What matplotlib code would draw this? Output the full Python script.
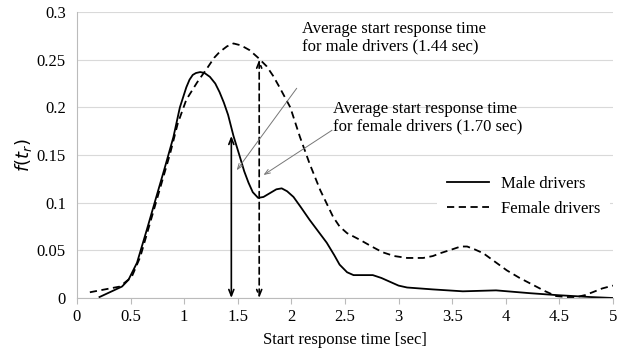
import matplotlib.pyplot as plt
from matplotlib.ticker import FormatStrFormatter

# Data
male_t = [0.21, 0.42, 0.48, 0.56, 0.65, 0.74, 0.82, 0.90, 0.96, 1.02, 1.05, 1.08, 1.11,
          1.15, 1.19, 1.24, 1.29, 1.33, 1.37, 1.41, 1.46, 1.52, 1.56, 1.60, 1.64, 1.69,
          1.74, 1.80, 1.86, 1.91, 1.96, 2.02, 2.09, 2.17, 2.25, 2.33, 2.40, 2.45, 2.52,
          2.58, 2.67, 2.76, 2.84, 2.92, 3.00, 3.08, 3.32, 3.60, 3.91, 4.23, 4.48, 4.79, 5.00]
male_f = [0.001, 0.012, 0.019, 0.037, 0.071, 0.106, 0.137, 0.169, 0.200, 0.221, 0.229, 0.234, 0.236,
          0.237, 0.236, 0.232, 0.225, 0.216, 0.205, 0.192, 0.170, 0.148, 0.133, 0.121, 0.111, 0.105,
          0.106, 0.110, 0.114, 0.115, 0.112, 0.106, 0.095, 0.082, 0.070, 0.058, 0.045, 0.035, 0.027,
          0.024, 0.024, 0.024, 0.021, 0.017, 0.013, 0.011, 0.009, 0.007, 0.008, 0.005, 0.003, 0.001, 0.000]

female_t = [0.12, 0.40, 0.51, 0.59, 0.68, 0.77, 0.87, 0.94, 1.02, 1.12, 1.22, 1.28, 1.33,
            1.40, 1.46, 1.53, 1.61, 1.69, 1.77, 1.83, 1.89, 1.99, 2.08, 2.17, 2.27, 2.39,
            2.45, 2.52, 2.64, 2.75, 2.85, 2.96, 3.08, 3.23, 3.32, 3.39, 3.50, 3.58, 3.64,
            3.71, 3.79, 3.90, 4.01, 4.13, 4.25, 4.37, 4.47, 4.57, 4.66, 4.74, 4.81, 4.90, 5.00]
female_f = [0.006, 0.012, 0.022, 0.043, 0.078, 0.113, 0.152, 0.183, 0.208, 0.226, 0.242, 0.252, 0.258,
            0.264, 0.267, 0.265, 0.260, 0.252, 0.243, 0.233, 0.221, 0.200, 0.169, 0.141, 0.113, 0.085,
            0.075, 0.068, 0.061, 0.054, 0.048, 0.044, 0.042, 0.042, 0.044, 0.047, 0.051, 0.054, 0.054,
            0.051, 0.047, 0.038, 0.029, 0.021, 0.014, 0.007, 0.002, 0.001, 0.001, 0.003, 0.006, 0.010, 0.013]

male_mean, male_mean_f = 1.44, 0.17
female_mean, female_mean_f = 1.70, 0.25

plt.rcParams['font.family'] = ['Liberation Serif', 'DejaVu Serif']

fig = plt.figure(figsize=(6.29, 3.5), dpi=100)
ax = fig.add_axes([0.1224, 0.1486, 0.852, 0.8171])

ax.plot(male_t, male_f, color='black', lw=1.3, solid_joinstyle='round', label='Male drivers')
ax.plot(female_t, female_f, color='black', lw=1.3, ls=(0, (4, 2.5)), dash_joinstyle='round',
        label='Female drivers')

# mean markers
ax.annotate('', xy=(male_mean, male_mean_f), xytext=(male_mean, 0),
            arrowprops=dict(arrowstyle='<->,head_length=0.45,head_width=0.18',
                            color='black', lw=1.2, shrinkA=0, shrinkB=0))
ax.annotate('', xy=(female_mean, female_mean_f), xytext=(female_mean, 0),
            arrowprops=dict(arrowstyle='<->,head_length=0.45,head_width=0.18',
                            color='black', lw=1.2, ls=(0, (4, 2.5)), shrinkA=0, shrinkB=0))

ax.annotate('', xy=(1.49, 0.134), xytext=(2.05, 0.22),
            arrowprops=dict(arrowstyle='->,head_length=0.4,head_width=0.15',
                            color='#777777', lw=0.7, shrinkA=0, shrinkB=0))
ax.annotate('', xy=(1.74, 0.129), xytext=(2.38, 0.176),
            arrowprops=dict(arrowstyle='->,head_length=0.4,head_width=0.15',
                            color='#777777', lw=0.7, shrinkA=0, shrinkB=0))
ax.text(2.10, 0.273, 'Average start response time\nfor male drivers (1.44 sec)',
        fontsize=12, va='center', ha='left', linespacing=1.1)
ax.text(2.39, 0.189, 'Average start response time\nfor female drivers (1.70 sec)',
        fontsize=12, va='center', ha='left', linespacing=1.1)

ax.set_xlim(0, 5)
ax.set_ylim(0, 0.3)
ax.set_xticks([0, 0.5, 1, 1.5, 2, 2.5, 3, 3.5, 4, 4.5, 5])
ax.set_yticks([0, 0.05, 0.1, 0.15, 0.2, 0.25, 0.3])
ax.xaxis.set_major_formatter(FormatStrFormatter('%g'))
ax.yaxis.set_major_formatter(FormatStrFormatter('%g'))
ax.tick_params(axis='x', length=4, color='#bbbbbb', labelsize=12, pad=4)
ax.tick_params(axis='y', length=0, labelsize=12, pad=8)
ax.grid(axis='y', color='#d9d9d9', lw=0.8)
ax.set_axisbelow(True)
for s in ['top', 'right']:
    ax.spines[s].set_visible(False)
for s in ['left', 'bottom']:
    ax.spines[s].set_color('#bbbbbb')
    ax.spines[s].set_linewidth(0.8)

ax.set_xlabel('Start response time [sec]', fontsize=12, labelpad=5)
ax.set_ylabel(r'$f(t_r)$', fontsize=13, labelpad=2)

leg = ax.legend(loc='center right', bbox_to_anchor=(1.01, 0.355), fontsize=12,
                frameon=True, facecolor='white', edgecolor='none', framealpha=1,
                handlelength=2.5, handletextpad=0.7, borderpad=0.6, labelspacing=0.5)
leg.get_frame().set_boxstyle('square', pad=0)

fig.savefig('out.png', dpi=100)
